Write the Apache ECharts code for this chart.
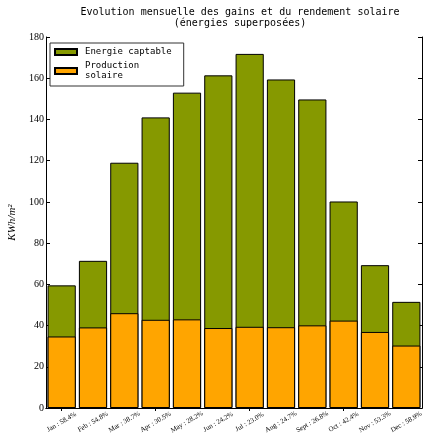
<!DOCTYPE html>
<html><head><meta charset="utf-8">
<script src="https://cdn.jsdelivr.net/npm/echarts@6/dist/echarts.min.js"></script>
<style>html,body{margin:0;padding:0;background:#fff}#c{width:423px;height:435px}</style>
</head><body><div id="c"></div>
<script>
var months = ['Jan','Feb','Mar','Apr','May','Jun','Jul','Aug','Sept','Oct','Nov','Dec'];
var rendement = ['58.4','54.8','38.7','30.5','28.2','24.2','23.0','24.7','26.8','42.4','53.3','58.9'];
var energie = [59.5, 71.4, 119.0, 141.0, 153.0, 161.4, 171.8, 159.4, 149.7, 100.2, 69.3, 51.5];
var production = [34.7, 39.1, 46.0, 42.8, 43.0, 38.8, 39.4, 39.2, 40.1, 42.4, 36.9, 30.3];
var yTicks = {min: 0, max: 180, interval: 20};

var cats = months.map(function(m, i){ return m + ' : ' + rendement[i] + '%'; });
var serif = 'Liberation Serif';
var mono = 'DejaVu Sans Mono';

var chart = echarts.init(document.getElementById('c'), null, {renderer: 'canvas'});
chart.setOption({
  animation: false,
  title: {
    text: 'Evolution mensuelle des gains et du rendement solaire\n(énergies superposées)',
    left: 235, top: 2, textAlign: 'center',
    textStyle: {fontFamily: mono, fontSize: 10, fontWeight: 'normal', color: '#000', lineHeight: 11}
  },
  legend: {
    orient: 'vertical', left: 50, top: 43,
    padding: [4, 12, 5, 4], itemGap: 4,
    borderColor: '#333', borderWidth: 1, borderRadius: 0,
    backgroundColor: '#fff',
    itemWidth: 22, itemHeight: 6, icon: 'rect',
    data: ['Energie captable', 'Production solaire'],
    formatter: function(n){ return n.replace(' solaire', '\nsolaire'); },
    textStyle: {fontFamily: mono, fontSize: 9, color: '#000', lineHeight: 10, padding: [0,0,0,3]}
  },
  grid: {left: 46, right: 1, top: 37, bottom: 27, containLabel: false, outerBoundsMode: 'none'},
  xAxis: [{
    type: 'category', data: cats, position: 'bottom',
    axisLine: {show: true, lineStyle: {color: '#000', width: 1}},
    axisTick: {show: true, inside: true, alignWithLabel: true, length: 3, lineStyle: {color: '#000'}},
    axisLabel: {rotate: 30, align: 'center', verticalAlign: 'middle', fontFamily: serif, fontSize: 7, color: '#000', margin: 14, interval: 0}
  }, {
    type: 'category', data: cats, position: 'top',
    axisLine: {show: true, lineStyle: {color: '#000', width: 1}},
    axisTick: {show: true, inside: true, alignWithLabel: true, length: 3, lineStyle: {color: '#000'}},
    axisLabel: {show: false}
  }],
  yAxis: [{
    type: 'value', min: yTicks.min, max: yTicks.max, interval: yTicks.interval,
    name: 'KWh/m²', nameLocation: 'middle', nameGap: 26, nameRotate: 90,
    nameTextStyle: {fontFamily: serif, fontStyle: 'italic', fontSize: 11, color: '#000'},
    axisLine: {show: true, lineStyle: {color: '#000', width: 1}},
    axisTick: {show: true, inside: true, length: 4, lineStyle: {color: '#000'}},
    axisLabel: {fontFamily: serif, fontSize: 10, color: '#000', margin: 2},
    splitLine: {show: false}
  }, {
    type: 'value', min: yTicks.min, max: yTicks.max, interval: yTicks.interval, position: 'right',
    axisLine: {show: true, lineStyle: {color: '#000', width: 1}},
    axisTick: {show: true, inside: true, length: 4, lineStyle: {color: '#000'}},
    axisLabel: {show: false},
    splitLine: {show: false}
  }],
  series: [{
    name: 'Energie captable', type: 'bar', data: energie,
    barWidth: '90%', barGap: '-100%',
    itemStyle: {color: '#869900', borderColor: '#000', borderWidth: 1}
  }, {
    name: 'Production solaire', type: 'bar', data: production,
    barWidth: '90%', barGap: '-100%',
    itemStyle: {color: '#FFA500', borderColor: '#000', borderWidth: 1}
  }]
});
</script></body></html>
